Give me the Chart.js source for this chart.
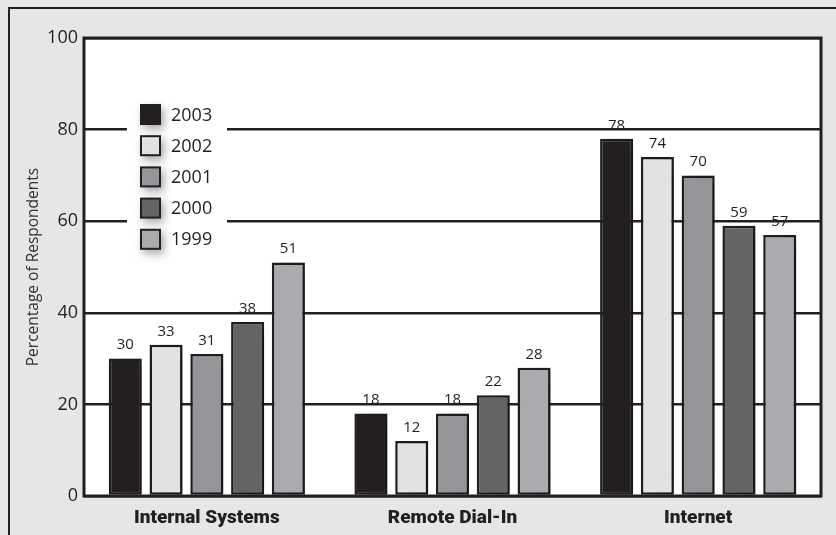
<!DOCTYPE html>
<html>
<head>
<meta charset="utf-8">
<script src="https://cdn.jsdelivr.net/npm/chart.js@4.4.1/dist/chart.umd.min.js"></script>
<style>
  html, body { margin: 0; padding: 0; background: #e6e6e6; }
  #wrap { position: relative; width: 836px; height: 535px; overflow: hidden; }
  #frame { position: absolute; left: 8px; top: 7px; width: 900px; height: 600px;
           border-left: 2px solid #231f20; border-top: 2px solid #231f20; }
  canvas { position: absolute; left: 0; top: 0; }
</style>
</head>
<body>
<div id="wrap">
  <div id="frame"></div>
  <canvas id="c" width="836" height="535"></canvas>
</div>
<script>
// Access methods surveyed, share of respondents by year
const categories = ['Internal Systems', 'Remote Dial-In', 'Internet'];
const years = ['2003', '2002', '2001', '2000', '1999'];
const values2003 = [30, 18, 78];
const values2002 = [33, 12, 74];
const values2001 = [31, 18, 70];
const values2000 = [38, 22, 59];
const values1999 = [51, 28, 57];
const yTicks = [0, 20, 40, 60, 80, 100];

const fills = ['#231f20', '#e1e2e4', '#939598', '#636466', '#a9abae'];
const seriesValues = [values2003, values2002, values2001, values2000, values1999];
const INK = '#231f20';

const datasets = years.map((y, i) => ({
  label: y,
  data: seriesValues[i],
  backgroundColor: fills[i],
  borderColor: INK,
  borderWidth: 2.5,
  borderSkipped: false,
  categoryPercentage: 0.83,
  barPercentage: 0.81
}));

// white plot background
const plotBg = {
  id: 'plotBg',
  beforeDraw(chart) {
    const { ctx, chartArea: a } = chart;
    ctx.save();
    ctx.fillStyle = '#ffffff';
    ctx.fillRect(a.left, a.top, a.right - a.left, a.bottom - a.top);
    ctx.restore();
  }
};

// soft drop shadow behind the bars
const barShadow = {
  id: 'barShadow',
  beforeDatasetDraw(chart) {
    const ctx = chart.ctx;
    ctx.save();
    ctx.shadowColor = 'rgba(0,0,0,0.4)';
    ctx.shadowBlur = 16;
    ctx.shadowOffsetX = 7;
    ctx.shadowOffsetY = 3;
  },
  afterDatasetDraw(chart) {
    chart.ctx.restore();
  }
};

// legend block inside the plot, with a white backdrop over the grid
const insetLegend = {
  id: 'insetLegend',
  beforeDatasetsDraw(chart) {
    const ctx = chart.ctx;
    const x0 = 127, y0 = 98, step = 31.2, box = 21;
    ctx.save();
    ctx.fillStyle = '#ffffff';
    ctx.fillRect(x0, y0 - 6, 100, step * chart.data.datasets.length + 6);
    chart.data.datasets.forEach((ds, i) => {
      const by = y0 + 6 + i * step;
      ctx.save();
      ctx.shadowColor = 'rgba(0,0,0,0.35)';
      ctx.shadowBlur = 8;
      ctx.shadowOffsetX = 3;
      ctx.shadowOffsetY = 4;
      ctx.fillStyle = INK;
      ctx.fillRect(140, by, box, box);
      ctx.restore();
      ctx.fillStyle = ds.backgroundColor;
      ctx.fillRect(142, by + 2, box - 4, box - 4);
      ctx.fillStyle = INK;
      ctx.font = '18px "Open Sans"';
      ctx.textAlign = 'left';
      ctx.textBaseline = 'middle';
      ctx.fillText(ds.label, 171, by + box / 2 + 1);
    });
    ctx.restore();
  }
};

// value labels above each bar and the heavy plot frame
const valueLabels = {
  id: 'valueLabels',
  afterDatasetsDraw(chart) {
    const { ctx, chartArea: a } = chart;
    ctx.save();
    ctx.strokeStyle = INK;
    ctx.lineWidth = 3;
    ctx.strokeRect(a.left, a.top, a.right - a.left, a.bottom - a.top);
    ctx.fillStyle = INK;
    ctx.font = '15px "Open Sans"';
    ctx.textAlign = 'center';
    ctx.textBaseline = 'bottom';
    chart.data.datasets.forEach((ds, di) => {
      chart.getDatasetMeta(di).data.forEach((bar, i) => {
        ctx.fillText(String(ds.data[i]), bar.x, bar.y - 6);
      });
    });
    ctx.restore();
  }
};

new Chart(document.getElementById('c'), {
  type: 'bar',
  data: { labels: categories, datasets },
  plugins: [plotBg, barShadow, insetLegend, valueLabels],
  options: {
    responsive: false,
    animation: false,
    events: [],
    layout: { padding: { top: 38, right: 15, left: 0, bottom: 0 } },
    plugins: { legend: { display: false }, tooltip: { enabled: false } },
    scales: {
      x: {
        grid: { display: false, drawTicks: false },
        border: { display: false },
        ticks: { color: INK, padding: 11, font: { family: 'Roboto', size: 19, weight: '900' } },
        afterFit(s) { s.height = 39; }
      },
      y: {
        min: 0, max: 100,
        afterBuildTicks(s) { s.ticks = yTicks.map(v => ({ value: v })); },
        grid: { color: INK, lineWidth: 2.5, drawTicks: false },
        border: { display: false },
        ticks: { color: INK, padding: 6, font: { family: '"Open Sans"', size: 18 } },
        title: { display: true, text: 'Percentage of Respondents', color: '#333333',
                 font: { family: '"Open Sans"', size: 15.5 }, padding: { top: 24, bottom: 0 } },
        afterFit(s) { s.width = 84; }
      }
    }
  }
});
</script>
</body>
</html>
